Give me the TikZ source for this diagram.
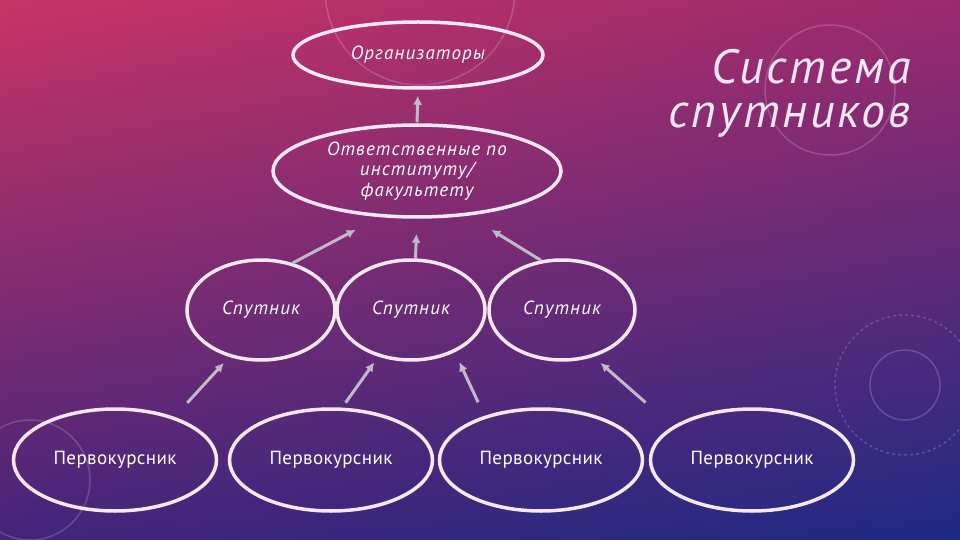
\documentclass[tikz,border=0pt]{standalone}
\usepackage{fontspec}
\setmainfont{PT Sans}
\usetikzlibrary{shapes.geometric,arrows.meta,shadings}
\tikzset{>={Latex[length=9pt,width=9pt]}}
\definecolor{bgul}{RGB}{200,52,102}
\definecolor{bgur}{RGB}{155,42,110}
\definecolor{bgll}{RGB}{68,36,122}
\definecolor{bglr}{RGB}{30,42,132}
\definecolor{ovalline}{RGB}{248,232,246}
\definecolor{linkgray}{RGB}{192,186,198}
\newfontfamily\handfont[LetterSpace=6]{PT Sans Italic}
\newfontfamily\freshfont[LetterSpace=2]{PT Sans}
\tikzset{
  oval/.style={ellipse, draw=ovalline, line width=3.5pt, inner sep=0pt,
    text=white, align=center, font=\handfont\fontsize{19}{20.5}\selectfont},
  fresh/.style={oval, minimum width=203pt, minimum height=102pt,
    font=\freshfont\fontsize{19}{20}\selectfont},
  link/.style={->, draw=linkgray, line width=3pt},
  ring/.style={draw=white, opacity=0.18, line width=1.5pt},
}
\begin{document}
\begin{tikzpicture}[x=1pt,y=-1pt]
  \shade[upper left=bgul, upper right=bgur, lower left=bgll, lower right=bglr]
    (0,0) rectangle (960,540);
  \useasboundingbox (0,0) rectangle (960,540);
  % faint rings of the background
  \draw[ring] (905,385) circle (35);
  \draw[ring, dashed] (905,385) circle (70);
  \draw[ring] (420,-10) circle (95);
  \draw[ring] (30,480) circle (60);
  \draw[ring] (830,90) circle (65);

  % top levels
  \node[oval, minimum width=250pt, minimum height=66pt] (org) at (418,55) {Организаторы};
  \node[oval, minimum width=288pt, minimum height=92pt] (otv) at (417,171)
    {Ответственные по\\институту/\\факультету};

  % satellites
  \node[oval, minimum width=148pt, minimum height=100pt] (s1) at (261,310) {Спутник};
  \node[oval, minimum width=148pt, minimum height=100pt] (s2) at (411,310) {Спутник};
  \node[oval, minimum width=146pt, minimum height=100pt] (s3) at (562,310) {Спутник};

  % freshmen
  \node[fresh] (p1) at (115,460) {Первокурсник};
  \node[fresh] (p2) at (331,460) {Первокурсник};
  \node[fresh] (p3) at (541,460) {Первокурсник};
  \node[fresh] (p4) at (752,460) {Первокурсник};

  % arrows: from/to/shorten start/shorten end
  \foreach \a/\b/\s/\e in {otv.north/org.south/1/6, s1.56/otv.231/0/27,
      s2.85/otv.south/0/15, s3.113/otv.-41/0/27, p1.36/s1.236/19/8,
      p2.78/s2.235/6/7, p3.142/s2.316/15/11, p4.157/s3.304/36/9}
    \draw[link, shorten <=\s pt, shorten >=\e pt] (\a) -- (\b);

  % title
  \node[anchor=north east, align=right, text=ovalline,
    font=\handfont\fontsize{48}{44}\selectfont] (title) at (914,46) {Система\\спутников};
\end{tikzpicture}
\end{document}
